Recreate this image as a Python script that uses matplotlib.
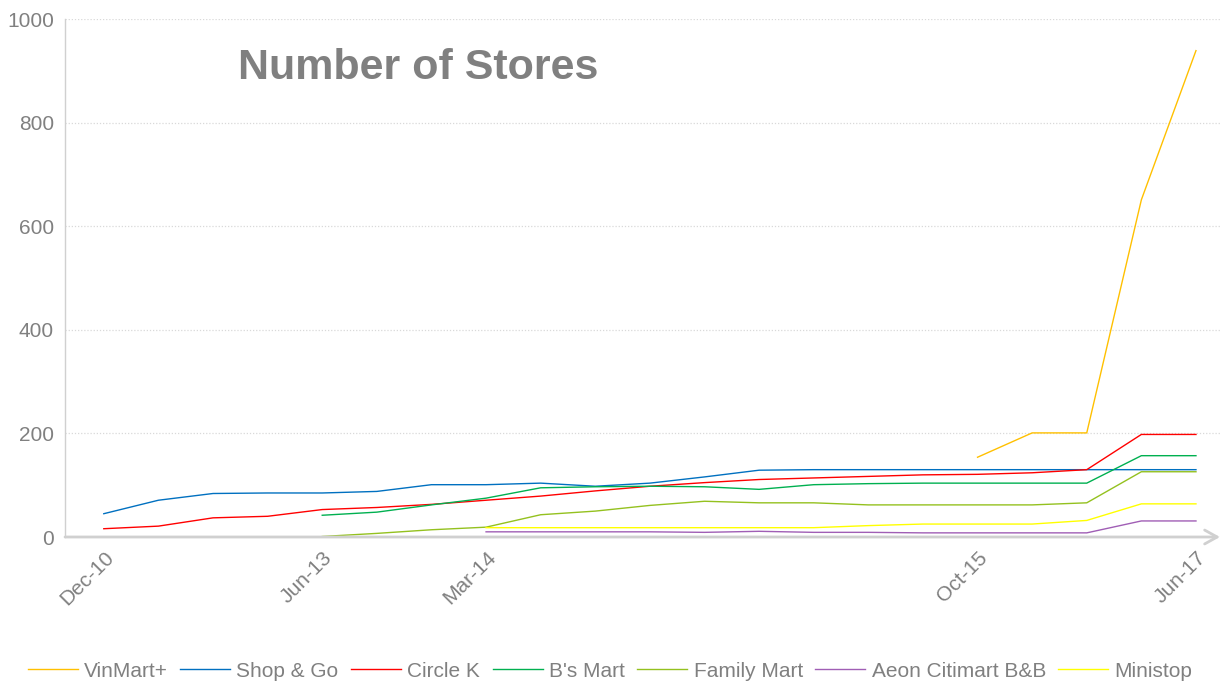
import numpy as np
import matplotlib
matplotlib.use("Agg")
import matplotlib.pyplot as plt
from matplotlib.lines import Line2D

plt.rcParams['font.family'] = ['Liberation Sans', 'DejaVu Sans']

nan = np.nan

# Category axis: 21 periods, only a few carry a label
x_labels = ['Dec-10', '', '', '', 'Jun-13', '', '', 'Mar-14', '', '', '',
            '', '', '', '', '', 'Oct-15', '', '', '', 'Jun-17']

series_names = ['VinMart+', 'Shop & Go', 'Circle K', "B's Mart",
                'Family Mart', 'Aeon Citimart B&B', 'Ministop']
colors = ['#FFC000', '#0070C0', '#FF0000', '#00B050',
          '#94C11F', '#A05EB5', '#FFFF00']

vinmart = [nan] * 16 + [154, 201, 201, 651, 939]
shop_go = [45, 71, 84, 85, 85, 88, 101, 101, 104, 98, 104,
           116, 129, 130, 130, 130, 130, 130, 130, 130, 130]
circle_k = [16, 21, 37, 40, 53, 57, 63, 71, 79, 89, 98,
            105, 111, 114, 117, 120, 121, 124, 130, 198, 198]
bs_mart = [nan] * 4 + [42, 48, 62, 75, 95, 97, 98,
                       97, 92, 101, 103, 104, 104, 104, 104, 157, 157]
family_mart = [nan] * 4 + [1, 7, 14, 19, 43, 50, 61,
                           69, 66, 66, 62, 62, 62, 62, 66, 126, 126]
aeon = [nan] * 7 + [10, 10, 10, 10, 9, 11, 9, 9, 8, 8, 8, 8, 31, 31]
ministop = [nan] * 7 + [18, 18, 18, 18, 18, 18, 18, 22, 25, 25, 25, 32, 64, 64]

all_series = [vinmart, shop_go, circle_k, bs_mart, family_mart, aeon, ministop]

fig = plt.figure(figsize=(12.2, 6.82), dpi=100)
ax = fig.add_axes([0.0533, 0.2126, 0.9467, 0.7595])

x = np.arange(len(x_labels))
for name, vals, c in zip(series_names, all_series, colors):
    ax.plot(x, vals, color=c, lw=1.0, label=name)

ax.set_xlim(-0.71, 20.44)
ax.set_ylim(0, 1000)
ax.set_yticks([0, 200, 400, 600, 800, 1000])
ax.grid(axis='y', color='#d9d9d9', linestyle=(0, (1, 1.5)), lw=0.9)
ax.set_axisbelow(True)

for s in ['top', 'right', 'bottom']:
    ax.spines[s].set_visible(False)
ax.spines['left'].set_color('#d0d0d0')
ax.spines['left'].set_linewidth(1.0)

# x axis with arrow head
ax.annotate('', xy=(1.0, 0), xytext=(0, 0), xycoords='axes fraction',
            arrowprops=dict(arrowstyle='->,head_length=0.9,head_width=0.5',
                            color='#d0d0d0', lw=2.0, shrinkA=0, shrinkB=0))

ax.set_xticks(x)
ax.set_xticklabels(x_labels, rotation=45, ha='right', va='top',
                   rotation_mode='anchor', fontsize=15, color='#808080')
ax.tick_params(axis='x', length=0, pad=8)
ax.tick_params(axis='y', length=0, labelsize=15, labelcolor='#808080', pad=8)

fig.text(0.343, 0.9, 'Number of Stores', fontsize=31, fontweight='bold',
         color='#808080', ha='center', va='center')

handles = [Line2D([0], [0], color=c, lw=1.0) for c in colors]
fig.legend(handles, series_names, loc='center', bbox_to_anchor=(0.5, 0.016),
           ncol=7, frameon=False, fontsize=15, handlelength=2.4,
           handletextpad=0.3, columnspacing=0.6, labelcolor='#808080')

fig.savefig('out.png', dpi=100)
